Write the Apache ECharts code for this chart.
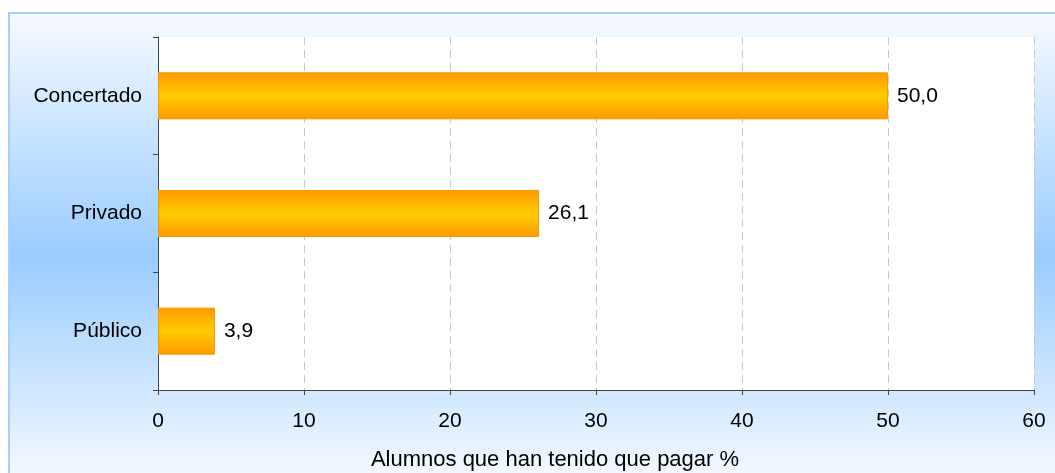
<!DOCTYPE html>
<html>
<head>
<meta charset="utf-8">
<script src="https://cdn.jsdelivr.net/npm/echarts@6/dist/echarts.min.js"></script>
<style>
    html, body { margin: 0; padding: 0; background: #fff; }
    #chart { width: 1055px; height: 473px; }
</style>
</head>
<body>
<div id="chart"></div>
<script>
// categories, top to bottom
const categories = ['Concertado', 'Privado', 'Público'];
const values = [50.0, 26.1, 3.9];
const axisName = 'Alumnos que han tenido que pagar %';

let chartDom = document.getElementById('chart');
let myChart = echarts.init(chartDom);

let font = 'Liberation Sans, Arial, sans-serif';

let option = {
    animation: false,
    backgroundColor: '#fff',
    graphic: [
        {
            type: 'rect',
            z: -10,
            shape: { x: 9, y: 13, width: 1060, height: 470 },
            style: {
                fill: {
                    type: 'linear', x: 0, y: 0, x2: 0, y2: 1,
                    colorStops: [
                        { offset: 0, color: '#f7faff' },
                        { offset: 0.52, color: '#99ccff' },
                        { offset: 1, color: '#f7faff' }
                    ]
                },
                stroke: '#a6d0fa',
                lineWidth: 2
            }
        }
    ],
    grid: {
        left: 158,
        right: 21,
        top: 37,
        bottom: 83,
        containLabel: false,
        outerBoundsMode: 'none',
        show: true,
        backgroundColor: '#fff',
        borderWidth: 0
    },
    xAxis: {
        type: 'value',
        min: 0,
        max: 60,
        interval: 10,
        name: axisName,
        nameLocation: 'middle',
        nameGap: 59,
        nameTextStyle: { fontSize: 22, color: '#000', fontFamily: font, padding: [0, 82, 0, 0] },
        axisLine: { show: true, lineStyle: { color: '#444', width: 1 } },
        axisTick: { show: true, length: 5, lineStyle: { color: '#444' } },
        axisLabel: { fontSize: 21, color: '#000', fontFamily: font, margin: 21 },
        splitLine: { show: true, lineStyle: { color: '#c8c8c8', type: [8, 5] } }
    },
    yAxis: {
        type: 'category',
        inverse: true,
        data: categories,
        axisLine: { show: true, lineStyle: { color: '#444', width: 1 } },
        axisTick: { show: true, length: 5, lineStyle: { color: '#444' } },
        axisLabel: { fontSize: 21, color: '#000', fontFamily: font, margin: 16 },
        splitLine: { show: false }
    },
    series: [
        {
            type: 'bar',
            data: values,
            barWidth: 47,
            itemStyle: {
                color: {
                    type: 'linear', x: 0, y: 0, x2: 0, y2: 1,
                    colorStops: [
                        { offset: 0, color: '#ff9900' },
                        { offset: 0.5, color: '#ffcc00' },
                        { offset: 1, color: '#ff9900' }
                    ]
                },
                borderColor: '#f29a00',
                borderWidth: 1
            },
            label: {
                show: true,
                position: 'right',
                distance: 9,
                fontSize: 21,
                color: '#000',
                fontFamily: font,
                formatter: function (params) {
                    return params.value.toFixed(1).replace('.', ',');
                }
            }
        }
    ]
};
option && myChart.setOption(option);
</script>
</body>
</html>
